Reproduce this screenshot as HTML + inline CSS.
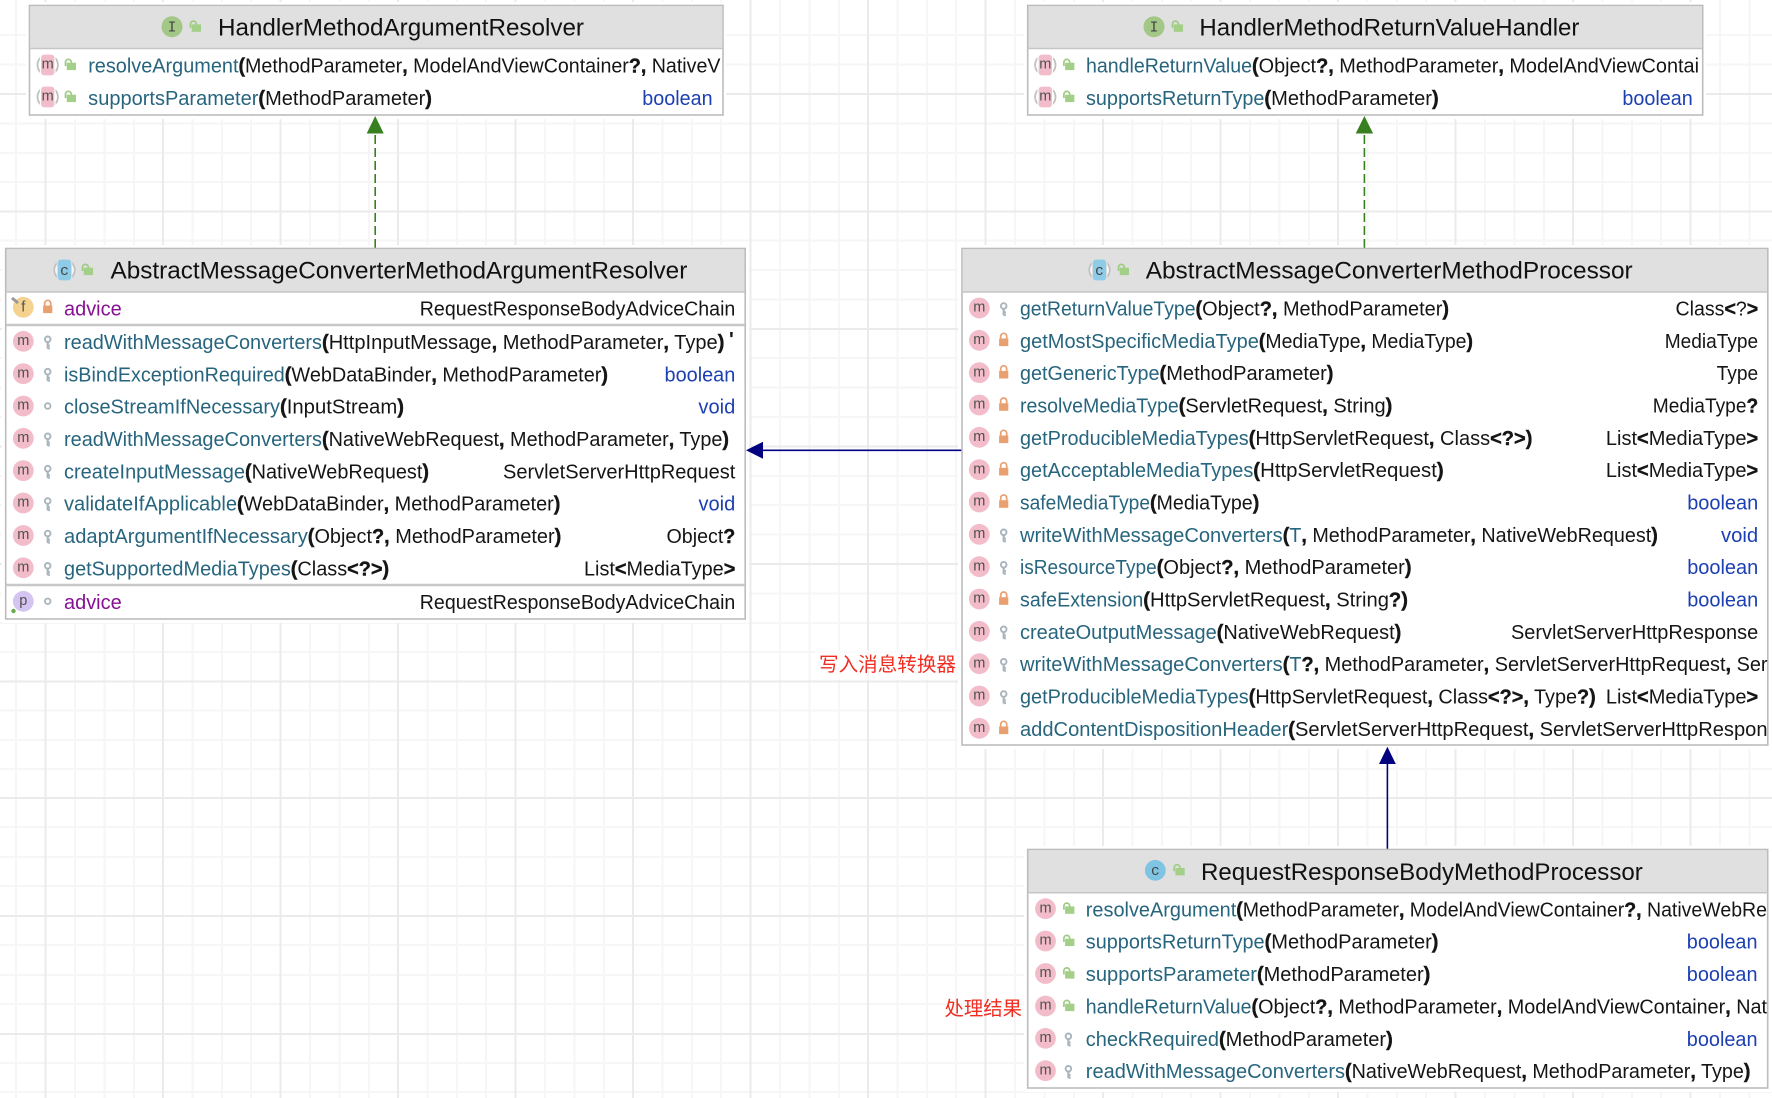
<!DOCTYPE html>
<html><head><meta charset="utf-8"><title>Class diagram</title>
<style>
html,body{margin:0;padding:0;background:#fff;width:1772px;height:1098px;overflow:hidden}
svg{display:block}
text{font-family:"Liberation Sans","Noto Sans CJK SC",sans-serif;font-size:20px;fill:#151515}
.n,tspan.n{fill:#27657e}.b{fill:#1c3fb2}.p{fill:#871094}
.k{font-weight:700;stroke:#151515;stroke-width:.4}
.h{font-size:24.5px;fill:#111}
.l{font-size:14.5px;fill:#505050;text-anchor:middle;transform:translateY(-1.3px)}
.il{font-size:14.5px;fill:#444;text-anchor:middle;font-family:"Liberation Mono",monospace}
.r{font-family:"Noto Sans CJK SC","WenQuanYi Zen Hei",sans-serif;font-size:19.5px;fill:#f02d22}
.box{fill:#fff;stroke:#bcbcbc;stroke-width:1.6}
.halo{fill:#fff}
.hd{fill:#e0e0e0}
.sep{stroke:#c6c6c6;stroke-width:1.5}
.sep2{stroke:#c8c8c8;stroke-width:2.4}
.mc{fill:#f2bccb}
.gm{stroke:#ebebeb;stroke-width:2}
.gn{stroke:#f6f6f6;stroke-width:2}
</style></head><body>
<svg xmlns="http://www.w3.org/2000/svg" width="1772" height="1098" viewBox="0 0 1772 1098">
<defs>
<g id="lk"><path d="M-3-2.5v-2.2a3 3 0 0 1 6 0v2.2" fill="none" stroke="#e9a070" stroke-width="1.7"/><rect x="-4.6" y="-2.5" width="9.2" height="7.6" fill="#e9a070"/></g>
<g id="key"><circle cx="0" cy="-3" r="2.8" fill="none" stroke="#a9b4bd" stroke-width="1.9"/><path d="M0-.5V6.4M0 3.4h2.2M0 6h2.2" stroke="#a9b4bd" stroke-width="2.2" fill="none"/></g>
<circle id="ring" r="2.8" fill="none" stroke="#a9b4bd" stroke-width="1.8"/>
<g id="ol"><path d="M-4.5 1V-2.7a2.9 2.9 0 0 1 5.8 0v1" fill="none" stroke="#9ecb82" stroke-width="1.7"/><rect x="-3.3" y="-2.3" width="9.3" height="7.4" fill="#a4cf88"/></g>
<g id="am"><circle r="10.2" fill="#fff" stroke="#c0c0c0" stroke-width="1.8"/><rect x="-7.8" y="-11" width="15.600" height="22" fill="#fff"/><rect x="-6.600" y="-10.400" width="13.200" height="20.800" rx="3" fill="#f2bccb"/></g>
<g id="ac"><circle r="10.2" fill="#fff" stroke="#c0c0c0" stroke-width="1.8"/><rect x="-7.8" y="-11" width="15.600" height="22" fill="#e0e0e0"/><rect x="-6.600" y="-10.400" width="13.200" height="20.800" rx="3" fill="#8ecbe6"/></g>
</defs>

<!-- grid minor -->
<g class="gn">
<path d="M16 0V1098M75 0V1098M104.500 0V1098M134 0V1098M192.500 0V1098M222 0V1098M251 0V1098M310 0V1098M339.500 0V1098M369 0V1098M427.500 0V1098M457 0V1098M486 0V1098M545 0V1098M574.500 0V1098M604 0V1098M662.500 0V1098M692 0V1098M721 0V1098M780 0V1098M809.500 0V1098M839 0V1098M897.500 0V1098M927 0V1098M956 0V1098M1015 0V1098M1044.500 0V1098M1074 0V1098M1132.500 0V1098M1162 0V1098M1191 0V1098M1250 0V1098M1279.500 0V1098M1309 0V1098M1367.500 0V1098M1397 0V1098M1426 0V1098M1485 0V1098M1514.500 0V1098M1544 0V1098M1602.500 0V1098M1632 0V1098M1661 0V1098M1720 0V1098M1749.500 0V1098"/>
<path d="M0 35H1772M0 64.500H1772M0 123.500H1772M0 153H1772M0 182H1772M0 240.500H1772M0 270H1772M0 299.500H1772M0 358H1772M0 387.500H1772M0 417H1772M0 476H1772M0 505H1772M0 534.500H1772M0 593.500H1772M0 623H1772M0 652H1772M0 710.500H1772M0 740H1772M0 769H1772M0 827H1772M0 857H1772M0 886H1772M0 945H1772M0 975H1772M0 1004H1772M0 1063H1772M0 1092H1772"/>
</g>
<!-- grid major -->
<g class="gm">
<path d="M45.500 0V1098M163 0V1098M280.500 0V1098M398 0V1098M515.500 0V1098M633 0V1098M750.500 0V1098M868 0V1098M985.500 0V1098M1103 0V1098M1220.500 0V1098M1338 0V1098M1455.500 0V1098M1573 0V1098M1690.500 0V1098"/>
<path d="M0 94H1772M0 211.500H1772M0 329H1772M0 446.500H1772M0 564H1772M0 681.500H1772M0 798H1772M0 916H1772M0 1034H1772"/>
</g>

<!-- halos -->
<rect class="halo" x="26" y="2" width="700" height="117"/>
<rect class="halo" x="1024" y="2" width="682" height="117"/>
<rect class="halo" x="2" y="245" width="747" height="378"/>
<rect class="halo" x="958" y="245" width="814" height="504"/>
<rect class="halo" x="1024" y="846" width="748" height="246"/>
<rect class="halo" x="815" y="650" width="146" height="30" opacity=".6"/>

<!-- connectors -->
<line x1="375.200" y1="248" x2="375.200" y2="133" stroke="#38801f" stroke-width="1.6" stroke-dasharray="9 4"/>
<polygon points="375.200,116 366.700,133.500 383.700,133.500" fill="#38801f"/>
<line x1="1364.400" y1="248" x2="1364.400" y2="133" stroke="#38801f" stroke-width="1.6" stroke-dasharray="9 4"/>
<polygon points="1364.400,116 1355.700,133.500 1373.100,133.500" fill="#38801f"/>
<line x1="962" y1="450.300" x2="760" y2="450.300" stroke="#000080" stroke-width="1.6"/>
<polygon points="746,450.300 763,441.800 763,458.800" fill="#000080"/>
<line x1="1387.400" y1="850" x2="1387.400" y2="760" stroke="#000080" stroke-width="1.6"/>
<polygon points="1387.400,746.700 1379,764 1395.800,764" fill="#000080"/>

<!-- Box 1 -->
<rect class="box" x="29.500" y="5.500" width="693.500" height="109.500"/>
<rect class="hd" x="30.300" y="6.300" width="692" height="41.700"/><line class="sep" x1="30" y1="48.500" x2="723" y2="48.500"/>
<g transform="translate(172 26.700)"><circle r="10.500" fill="#a3c787"/><text class="il" y="5">I</text></g>
<use href="#ol" x="195" y="26.700"/>
<text class="h" x="218" y="35.300" textLength="366" lengthAdjust="spacingAndGlyphs">HandlerMethodArgumentResolver</text>
<use href="#am" x="47.700" y="65"/><text class="l" x="47.700" y="70">m</text><use href="#ol" x="70" y="65"/>
<text class="n" x="88.200" y="72.700" textLength="150.300" lengthAdjust="spacingAndGlyphs">resolveArgument</text>
<text x="238.500" y="72.700" textLength="482" lengthAdjust="spacingAndGlyphs"><tspan class="k">(</tspan>MethodParameter<tspan class="k">,</tspan> ModelAndViewContainer<tspan class="k">?,</tspan> NativeV</text>
<use href="#am" x="47.700" y="97"/><text class="l" x="47.700" y="102">m</text><use href="#ol" x="70" y="97"/>
<text class="n" x="88.200" y="104.800" textLength="170.200" lengthAdjust="spacingAndGlyphs">supportsParameter</text>
<text x="258.400" y="104.800" textLength="173.600" lengthAdjust="spacingAndGlyphs"><tspan class="k">(</tspan>MethodParameter<tspan class="k">)</tspan></text>
<text class="b" x="642.300" y="104.800" textLength="70.300" lengthAdjust="spacingAndGlyphs">boolean</text>

<!-- Box 2 -->
<rect class="box" x="1027.700" y="5.500" width="675" height="109.500"/>
<rect class="hd" x="1028.500" y="6.300" width="673.500" height="41.700"/><line class="sep" x1="1028" y1="48.500" x2="1702" y2="48.500"/>
<g transform="translate(1154 26.700)"><circle r="10.500" fill="#a3c787"/><text class="il" y="5">I</text></g>
<use href="#ol" x="1177" y="26.700"/>
<text class="h" x="1199.400" y="35.300" textLength="380" lengthAdjust="spacingAndGlyphs">HandlerMethodReturnValueHandler</text>
<use href="#am" x="1045.300" y="65"/><text class="l" x="1045.300" y="70">m</text><use href="#ol" x="1068.400" y="65"/>
<text class="n" x="1086" y="72.700" textLength="166" lengthAdjust="spacingAndGlyphs">handleReturnValue</text>
<text x="1252" y="72.700" textLength="447" lengthAdjust="spacingAndGlyphs"><tspan class="k">(</tspan>Object<tspan class="k">?,</tspan> MethodParameter<tspan class="k">,</tspan> ModelAndViewContai</text>
<use href="#am" x="1045.300" y="97"/><text class="l" x="1045.300" y="102">m</text><use href="#ol" x="1068.400" y="97"/>
<text class="n" x="1086" y="104.800" textLength="178.400" lengthAdjust="spacingAndGlyphs">supportsReturnType</text>
<text x="1264.400" y="104.800" textLength="174.300" lengthAdjust="spacingAndGlyphs"><tspan class="k">(</tspan>MethodParameter<tspan class="k">)</tspan></text>
<text class="b" x="1622.400" y="104.800" textLength="70.400" lengthAdjust="spacingAndGlyphs">boolean</text>

<!-- Box 3 -->
<rect class="box" x="5.700" y="248.500" width="739.500" height="370.500"/>
<rect class="hd" x="6.500" y="249.300" width="738" height="42.200"/><line class="sep" x1="6" y1="292" x2="745" y2="292"/>
<line class="sep2" x1="6" y1="325" x2="745" y2="325"/><line class="sep2" x1="6" y1="585" x2="745" y2="585"/>
<use href="#ac" x="64.500" y="270"/><text class="il" x="64.500" y="275">c</text><use href="#ol" x="87" y="270"/>
<text class="h" x="110.500" y="278.300" textLength="576.800" lengthAdjust="spacingAndGlyphs">AbstractMessageConverterMethodArgumentResolver</text>

<circle cx="23.300" cy="307.300" r="10.400" fill="#f5d28f"/><text class="l" x="23.300" y="313">f</text><path d="M12 298l6 5" stroke="#999" stroke-width="3"/>
<use href="#lk" x="47.700" y="308"/>
<text class="p" x="64" y="315.300" textLength="57.700" lengthAdjust="spacingAndGlyphs">advice</text>
<text x="419.800" y="315.300" textLength="315.500" lengthAdjust="spacingAndGlyphs">RequestResponseBodyAdviceChain</text>

<circle class="mc" cx="23.300" cy="341.300" r="10.400"/><text class="l" x="23.300" y="346.300">m</text><use href="#key" x="47.700" y="342.300"/>
<text class="n" x="64" y="349" textLength="258" lengthAdjust="spacingAndGlyphs">readWithMessageConverters</text>
<text x="322" y="349" textLength="402.400" lengthAdjust="spacingAndGlyphs"><tspan class="k">(</tspan>HttpInputMessage<tspan class="k">,</tspan> MethodParameter<tspan class="k">,</tspan> Type<tspan class="k">)</tspan></text>
<text x="729" y="346" style="font-weight:700">'</text>

<circle class="mc" cx="23.300" cy="373.600" r="10.400"/><text class="l" x="23.300" y="378.600">m</text><use href="#key" x="47.700" y="374.600"/>
<text class="n" x="64" y="381.300" textLength="220.800" lengthAdjust="spacingAndGlyphs">isBindExceptionRequired</text>
<text x="284.800" y="381.300" textLength="323.200" lengthAdjust="spacingAndGlyphs"><tspan class="k">(</tspan>WebDataBinder<tspan class="k">,</tspan> MethodParameter<tspan class="k">)</tspan></text>
<text class="b" x="664.500" y="381.300" textLength="70.800" lengthAdjust="spacingAndGlyphs">boolean</text>

<circle class="mc" cx="23.300" cy="406" r="10.400"/><text class="l" x="23.300" y="411">m</text><use href="#ring" x="47.700" y="406"/>
<text class="n" x="64" y="413.600" textLength="216" lengthAdjust="spacingAndGlyphs">closeStreamIfNecessary</text>
<text x="280" y="413.600" textLength="124" lengthAdjust="spacingAndGlyphs"><tspan class="k">(</tspan>InputStream<tspan class="k">)</tspan></text>
<text class="b" x="698.400" y="413.600" textLength="36.900" lengthAdjust="spacingAndGlyphs">void</text>

<circle class="mc" cx="23.300" cy="438.300" r="10.400"/><text class="l" x="23.300" y="443.300">m</text><use href="#key" x="47.700" y="439.300"/>
<text class="n" x="64" y="446" textLength="258" lengthAdjust="spacingAndGlyphs">readWithMessageConverters</text>
<text x="322" y="446" textLength="407" lengthAdjust="spacingAndGlyphs"><tspan class="k">(</tspan>NativeWebRequest<tspan class="k">,</tspan> MethodParameter<tspan class="k">,</tspan> Type<tspan class="k">)</tspan></text>

<circle class="mc" cx="23.300" cy="470.600" r="10.400"/><text class="l" x="23.300" y="475.600">m</text><use href="#key" x="47.700" y="471.600"/>
<text class="n" x="64" y="478.300" textLength="181" lengthAdjust="spacingAndGlyphs">createInputMessage</text>
<text x="245" y="478.300" textLength="184" lengthAdjust="spacingAndGlyphs"><tspan class="k">(</tspan>NativeWebRequest<tspan class="k">)</tspan></text>
<text x="503" y="478.300" textLength="232.300" lengthAdjust="spacingAndGlyphs">ServletServerHttpRequest</text>

<circle class="mc" cx="23.300" cy="503" r="10.400"/><text class="l" x="23.300" y="508">m</text><use href="#key" x="47.700" y="504"/>
<text class="n" x="64" y="510.700" textLength="173" lengthAdjust="spacingAndGlyphs">validateIfApplicable</text>
<text x="237" y="510.700" textLength="323.400" lengthAdjust="spacingAndGlyphs"><tspan class="k">(</tspan>WebDataBinder<tspan class="k">,</tspan> MethodParameter<tspan class="k">)</tspan></text>
<text class="b" x="698.500" y="510.700" textLength="36.800" lengthAdjust="spacingAndGlyphs">void</text>

<circle class="mc" cx="23.300" cy="535.500" r="10.400"/><text class="l" x="23.300" y="540.500">m</text><use href="#key" x="47.700" y="536.500"/>
<text class="n" x="64" y="543" textLength="243.800" lengthAdjust="spacingAndGlyphs">adaptArgumentIfNecessary</text>
<text x="307.800" y="543" textLength="253.500" lengthAdjust="spacingAndGlyphs"><tspan class="k">(</tspan>Object<tspan class="k">?,</tspan> MethodParameter<tspan class="k">)</tspan></text>
<text x="666.500" y="543" textLength="68.800" lengthAdjust="spacingAndGlyphs">Object<tspan class="k">?</tspan></text>

<circle class="mc" cx="23.300" cy="567.800" r="10.400"/><text class="l" x="23.300" y="572.800">m</text><use href="#key" x="47.700" y="568.800"/>
<text class="n" x="64" y="575.500" textLength="226.800" lengthAdjust="spacingAndGlyphs">getSupportedMediaTypes</text>
<text x="290.800" y="575.500" textLength="98.400" lengthAdjust="spacingAndGlyphs"><tspan class="k">(</tspan>Class<tspan class="k">&lt;?&gt;)</tspan></text>
<text x="584" y="575.500" textLength="151.300" lengthAdjust="spacingAndGlyphs">List<tspan class="k">&lt;</tspan>MediaType<tspan class="k">&gt;</tspan></text>

<circle cx="23.300" cy="601.300" r="10.400" fill="#d4c4f2"/><text class="l" x="23.300" y="606.300">p</text><circle cx="13.500" cy="611" r="2.200" fill="#6aa84f"/><use href="#ring" x="47.700" y="601.300"/>
<text class="p" x="64" y="609" textLength="57.700" lengthAdjust="spacingAndGlyphs">advice</text>
<text x="419.800" y="609" textLength="315.500" lengthAdjust="spacingAndGlyphs">RequestResponseBodyAdviceChain</text>

<!-- Box 4 -->
<rect class="box" x="962" y="248.500" width="805.800" height="496.500"/>
<rect class="hd" x="962.800" y="249.300" width="804.200" height="42.200"/><line class="sep" x1="962" y1="292" x2="1768" y2="292"/>
<use href="#ac" x="1099.500" y="270"/><text class="il" x="1099.500" y="275">c</text><use href="#ol" x="1123" y="270"/>
<text class="h" x="1145.700" y="278.300" textLength="487" lengthAdjust="spacingAndGlyphs">AbstractMessageConverterMethodProcessor</text>

<circle class="mc" cx="979.300" cy="308" r="10.400"/><text class="l" x="979.300" y="313">m</text><use href="#key" x="1003.700" y="309"/>
<text class="n" x="1020" y="315.500" textLength="175.500" lengthAdjust="spacingAndGlyphs">getReturnValueType</text>
<text x="1195.500" y="315.500" textLength="253.500" lengthAdjust="spacingAndGlyphs"><tspan class="k">(</tspan>Object<tspan class="k">?,</tspan> MethodParameter<tspan class="k">)</tspan></text>
<text x="1675.500" y="315.500" textLength="82.700" lengthAdjust="spacingAndGlyphs">Class<tspan class="k">&lt;</tspan>?<tspan class="k">&gt;</tspan></text>

<circle class="mc" cx="979.300" cy="340.300" r="10.400"/><text class="l" x="979.300" y="345.300">m</text><use href="#lk" x="1003.700" y="341"/>
<text class="n" x="1020" y="347.800" textLength="238.900" lengthAdjust="spacingAndGlyphs">getMostSpecificMediaType</text>
<text x="1258.900" y="347.800" textLength="214.100" lengthAdjust="spacingAndGlyphs"><tspan class="k">(</tspan>MediaType<tspan class="k">,</tspan> MediaType<tspan class="k">)</tspan></text>
<text x="1664.700" y="347.800" textLength="93.500" lengthAdjust="spacingAndGlyphs">MediaType</text>

<circle class="mc" cx="979.300" cy="372.700" r="10.400"/><text class="l" x="979.300" y="377.700">m</text><use href="#lk" x="1003.700" y="373.400"/>
<text class="n" x="1020" y="380.200" textLength="139.500" lengthAdjust="spacingAndGlyphs">getGenericType</text>
<text x="1159.500" y="380.200" textLength="174" lengthAdjust="spacingAndGlyphs"><tspan class="k">(</tspan>MethodParameter<tspan class="k">)</tspan></text>
<text x="1716.600" y="380.200" textLength="41.600" lengthAdjust="spacingAndGlyphs">Type</text>

<circle class="mc" cx="979.300" cy="405" r="10.400"/><text class="l" x="979.300" y="410">m</text><use href="#lk" x="1003.700" y="405.700"/>
<text class="n" x="1020" y="412.500" textLength="158.700" lengthAdjust="spacingAndGlyphs">resolveMediaType</text>
<text x="1178.700" y="412.500" textLength="213.600" lengthAdjust="spacingAndGlyphs"><tspan class="k">(</tspan>ServletRequest<tspan class="k">,</tspan> String<tspan class="k">)</tspan></text>
<text x="1652.800" y="412.500" textLength="105.400" lengthAdjust="spacingAndGlyphs">MediaType<tspan class="k">?</tspan></text>

<circle class="mc" cx="979.300" cy="437.300" r="10.400"/><text class="l" x="979.300" y="442.300">m</text><use href="#lk" x="1003.700" y="438"/>
<text class="n" x="1020" y="444.800" textLength="228.700" lengthAdjust="spacingAndGlyphs">getProducibleMediaTypes</text>
<text x="1248.700" y="444.800" textLength="283.700" lengthAdjust="spacingAndGlyphs"><tspan class="k">(</tspan>HttpServletRequest<tspan class="k">,</tspan> Class<tspan class="k">&lt;?&gt;)</tspan></text>
<text x="1605.900" y="444.800" textLength="152.300" lengthAdjust="spacingAndGlyphs">List<tspan class="k">&lt;</tspan>MediaType<tspan class="k">&gt;</tspan></text>

<circle class="mc" cx="979.300" cy="469.700" r="10.400"/><text class="l" x="979.300" y="474.700">m</text><use href="#lk" x="1003.700" y="470.400"/>
<text class="n" x="1020" y="477.200" textLength="233.300" lengthAdjust="spacingAndGlyphs">getAcceptableMediaTypes</text>
<text x="1253.300" y="477.200" textLength="190.400" lengthAdjust="spacingAndGlyphs"><tspan class="k">(</tspan>HttpServletRequest<tspan class="k">)</tspan></text>
<text x="1605.900" y="477.200" textLength="152.300" lengthAdjust="spacingAndGlyphs">List<tspan class="k">&lt;</tspan>MediaType<tspan class="k">&gt;</tspan></text>

<circle class="mc" cx="979.300" cy="502" r="10.400"/><text class="l" x="979.300" y="507">m</text><use href="#lk" x="1003.700" y="502.700"/>
<text class="n" x="1020" y="509.500" textLength="130" lengthAdjust="spacingAndGlyphs">safeMediaType</text>
<text x="1150" y="509.500" textLength="109.300" lengthAdjust="spacingAndGlyphs"><tspan class="k">(</tspan>MediaType<tspan class="k">)</tspan></text>
<text class="b" x="1687.200" y="509.500" textLength="71" lengthAdjust="spacingAndGlyphs">boolean</text>

<circle class="mc" cx="979.300" cy="534.300" r="10.400"/><text class="l" x="979.300" y="539.300">m</text><use href="#key" x="1003.700" y="535.300"/>
<text class="n" x="1020" y="541.800" textLength="262.700" lengthAdjust="spacingAndGlyphs">writeWithMessageConverters</text>
<text x="1282.700" y="541.800" textLength="375.100" lengthAdjust="spacingAndGlyphs"><tspan class="k">(</tspan><tspan class="n">T</tspan><tspan class="k">,</tspan> MethodParameter<tspan class="k">,</tspan> NativeWebRequest<tspan class="k">)</tspan></text>
<text class="b" x="1721" y="541.800" textLength="37.200" lengthAdjust="spacingAndGlyphs">void</text>

<circle class="mc" cx="979.300" cy="566.700" r="10.400"/><text class="l" x="979.300" y="571.700">m</text><use href="#key" x="1003.700" y="567.700"/>
<text class="n" x="1020" y="574.200" textLength="136.700" lengthAdjust="spacingAndGlyphs">isResourceType</text>
<text x="1156.700" y="574.200" textLength="254.800" lengthAdjust="spacingAndGlyphs"><tspan class="k">(</tspan>Object<tspan class="k">?,</tspan> MethodParameter<tspan class="k">)</tspan></text>
<text class="b" x="1687.200" y="574.200" textLength="71" lengthAdjust="spacingAndGlyphs">boolean</text>

<circle class="mc" cx="979.300" cy="599" r="10.400"/><text class="l" x="979.300" y="604">m</text><use href="#lk" x="1003.700" y="599.700"/>
<text class="n" x="1020" y="606.500" textLength="123.300" lengthAdjust="spacingAndGlyphs">safeExtension</text>
<text x="1143.300" y="606.500" textLength="264.700" lengthAdjust="spacingAndGlyphs"><tspan class="k">(</tspan>HttpServletRequest<tspan class="k">,</tspan> String<tspan class="k">?)</tspan></text>
<text class="b" x="1687.200" y="606.500" textLength="71" lengthAdjust="spacingAndGlyphs">boolean</text>

<circle class="mc" cx="979.300" cy="631.300" r="10.400"/><text class="l" x="979.300" y="636.300">m</text><use href="#key" x="1003.700" y="632.300"/>
<text class="n" x="1020" y="638.800" textLength="196.700" lengthAdjust="spacingAndGlyphs">createOutputMessage</text>
<text x="1216.700" y="638.800" textLength="184.600" lengthAdjust="spacingAndGlyphs"><tspan class="k">(</tspan>NativeWebRequest<tspan class="k">)</tspan></text>
<text x="1511" y="638.800" textLength="247.200" lengthAdjust="spacingAndGlyphs">ServletServerHttpResponse</text>

<circle class="mc" cx="979.300" cy="663.700" r="10.400"/><text class="l" x="979.300" y="668.700">m</text><use href="#key" x="1003.700" y="664.700"/>
<text class="n" x="1020" y="671.200" textLength="262.700" lengthAdjust="spacingAndGlyphs">writeWithMessageConverters</text>
<text x="1282.700" y="671.200" textLength="484.800" lengthAdjust="spacingAndGlyphs"><tspan class="k">(</tspan><tspan class="n">T</tspan><tspan class="k">?,</tspan> MethodParameter<tspan class="k">,</tspan> ServletServerHttpRequest<tspan class="k">,</tspan> Ser</text>

<circle class="mc" cx="979.300" cy="696" r="10.400"/><text class="l" x="979.300" y="701">m</text><use href="#key" x="1003.700" y="697"/>
<text class="n" x="1020" y="703.500" textLength="228.700" lengthAdjust="spacingAndGlyphs">getProducibleMediaTypes</text>
<text x="1248.700" y="703.500" textLength="347.100" lengthAdjust="spacingAndGlyphs"><tspan class="k">(</tspan>HttpServletRequest<tspan class="k">,</tspan> Class<tspan class="k">&lt;?&gt;,</tspan> Type<tspan class="k">?)</tspan></text>
<text x="1605.900" y="703.500" textLength="152.300" lengthAdjust="spacingAndGlyphs">List<tspan class="k">&lt;</tspan>MediaType<tspan class="k">&gt;</tspan></text>

<circle class="mc" cx="979.300" cy="728.300" r="10.400"/><text class="l" x="979.300" y="733.300">m</text><use href="#lk" x="1003.700" y="729"/>
<text class="n" x="1020" y="735.800" textLength="268.300" lengthAdjust="spacingAndGlyphs">addContentDispositionHeader</text>
<text x="1288.300" y="735.800" textLength="479.200" lengthAdjust="spacingAndGlyphs"><tspan class="k">(</tspan>ServletServerHttpRequest<tspan class="k">,</tspan> ServletServerHttpRespon</text>

<!-- Box 5 -->
<rect class="box" x="1027.700" y="849.500" width="740" height="238.500"/>
<rect class="hd" x="1028.500" y="850.300" width="738.500" height="42"/><line class="sep" x1="1028" y1="892.800" x2="1768" y2="892.800"/>
<circle cx="1155.300" cy="870.300" r="10.400" fill="#7fc4e2"/><text class="il" x="1155.300" y="875">c</text><use href="#ol" x="1178.700" y="870.300"/>
<text class="h" x="1201" y="880" textLength="441.800" lengthAdjust="spacingAndGlyphs">RequestResponseBodyMethodProcessor</text>

<circle class="mc" cx="1045.500" cy="908.700" r="10.400"/><text class="l" x="1045.500" y="913.700">m</text><use href="#ol" x="1068.400" y="908.700"/>
<text class="n" x="1085.800" y="916.500" textLength="150.500" lengthAdjust="spacingAndGlyphs">resolveArgument</text>
<text x="1236.300" y="916.500" textLength="530.700" lengthAdjust="spacingAndGlyphs"><tspan class="k">(</tspan>MethodParameter<tspan class="k">,</tspan> ModelAndViewContainer<tspan class="k">?,</tspan> NativeWebRe</text>

<circle class="mc" cx="1045.500" cy="941" r="10.400"/><text class="l" x="1045.500" y="946">m</text><use href="#ol" x="1068.400" y="941"/>
<text class="n" x="1085.800" y="948.500" textLength="178.800" lengthAdjust="spacingAndGlyphs">supportsReturnType</text>
<text x="1264.600" y="948.500" textLength="173.900" lengthAdjust="spacingAndGlyphs"><tspan class="k">(</tspan>MethodParameter<tspan class="k">)</tspan></text>
<text class="b" x="1686.800" y="948.500" textLength="70.700" lengthAdjust="spacingAndGlyphs">boolean</text>

<circle class="mc" cx="1045.500" cy="973.500" r="10.400"/><text class="l" x="1045.500" y="978.500">m</text><use href="#ol" x="1068.400" y="973.500"/>
<text class="n" x="1085.800" y="981" textLength="171.200" lengthAdjust="spacingAndGlyphs">supportsParameter</text>
<text x="1257" y="981" textLength="173.300" lengthAdjust="spacingAndGlyphs"><tspan class="k">(</tspan>MethodParameter<tspan class="k">)</tspan></text>
<text class="b" x="1686.800" y="981" textLength="70.700" lengthAdjust="spacingAndGlyphs">boolean</text>

<circle class="mc" cx="1045.500" cy="1006" r="10.400"/><text class="l" x="1045.500" y="1011">m</text><use href="#ol" x="1068.400" y="1006"/>
<text class="n" x="1085.800" y="1013.500" textLength="165.700" lengthAdjust="spacingAndGlyphs">handleReturnValue</text>
<text x="1251.500" y="1013.500" textLength="515.500" lengthAdjust="spacingAndGlyphs"><tspan class="k">(</tspan>Object<tspan class="k">?,</tspan> MethodParameter<tspan class="k">,</tspan> ModelAndViewContainer<tspan class="k">,</tspan> Nat</text>

<circle class="mc" cx="1045.500" cy="1038.300" r="10.400"/><text class="l" x="1045.500" y="1043.300">m</text><use href="#key" x="1068.400" y="1039.300"/>
<text class="n" x="1085.800" y="1045.800" textLength="133.200" lengthAdjust="spacingAndGlyphs">checkRequired</text>
<text x="1219" y="1045.800" textLength="173.800" lengthAdjust="spacingAndGlyphs"><tspan class="k">(</tspan>MethodParameter<tspan class="k">)</tspan></text>
<text class="b" x="1686.800" y="1045.800" textLength="70.700" lengthAdjust="spacingAndGlyphs">boolean</text>

<circle class="mc" cx="1045.500" cy="1070.700" r="10.400"/><text class="l" x="1045.500" y="1075.700">m</text><use href="#key" x="1068.400" y="1071.700"/>
<text class="n" x="1085.800" y="1078.200" textLength="259.200" lengthAdjust="spacingAndGlyphs">readWithMessageConverters</text>
<text x="1345" y="1078.200" textLength="405.400" lengthAdjust="spacingAndGlyphs"><tspan class="k">(</tspan>NativeWebRequest<tspan class="k">,</tspan> MethodParameter<tspan class="k">,</tspan> Type<tspan class="k">)</tspan></text>

<!-- red notes -->
<text class="r" x="819" y="671" textLength="137" lengthAdjust="spacingAndGlyphs">写入消息转换器</text>
<text class="r" x="944.500" y="1015" textLength="77.500" lengthAdjust="spacingAndGlyphs">处理结果</text>
</svg>
</body></html>
